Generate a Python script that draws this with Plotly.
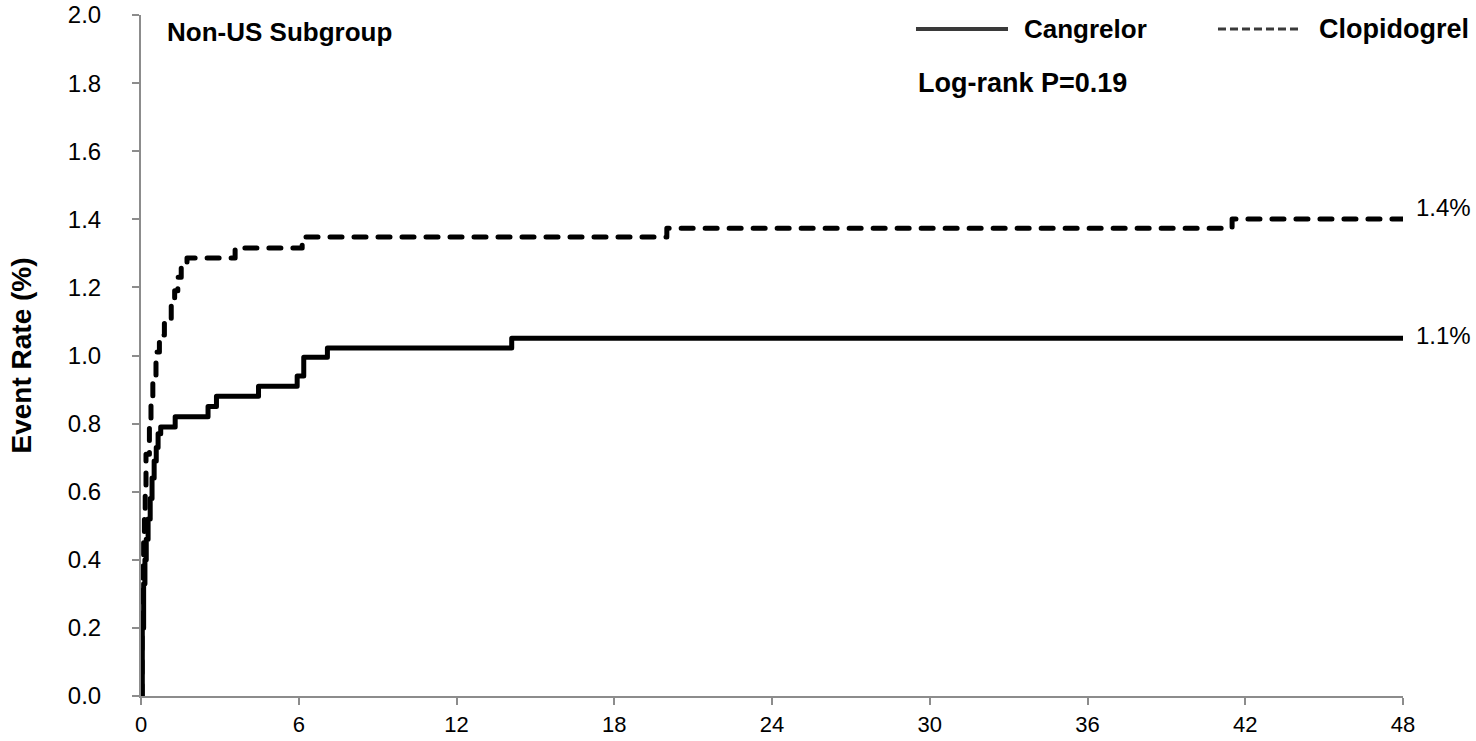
import plotly.graph_objects as go

# Kaplan-Meier cumulative event rates (%) by month, Non-US subgroup
cangrelor_months = [0, 0.05, 0.1, 0.15, 0.2, 0.27, 0.35, 0.42, 0.5, 0.58, 0.65,
                    0.75, 1.3, 2.55, 2.87, 4.47, 5.94, 6.19, 7.09, 14.1, 48]
cangrelor_rate = [0, 0.2, 0.33, 0.4, 0.46, 0.52, 0.58, 0.64, 0.69, 0.73, 0.77,
                  0.79, 0.82, 0.85, 0.88, 0.91, 0.94, 0.995, 1.022, 1.051, 1.051]

clopidogrel_months = [0, 0.04, 0.08, 0.1, 0.13, 0.16, 0.19, 0.32, 0.38, 0.45, 0.57,
                      0.70, 0.89, 1.15, 1.28, 1.40, 1.53, 1.75, 3.58, 6.13, 20.0, 41.5, 48]
clopidogrel_rate = [0, 0.25, 0.41, 0.48, 0.53, 0.60, 0.71, 0.81, 0.87, 0.92, 1.01,
                    1.06, 1.10, 1.15, 1.19, 1.23, 1.26, 1.286, 1.316, 1.348, 1.374, 1.401, 1.401]

x_ticks = [0, 6, 12, 18, 24, 30, 36, 42, 48]
y_ticks = [0.0, 0.2, 0.4, 0.6, 0.8, 1.0, 1.2, 1.4, 1.6, 1.8, 2.0]

subgroup_title = "Non-US Subgroup"
pvalue_text = "Log-rank P=0.19"
y_title = "Event Rate (%)"

FONT = "Liberation Sans, Arial, sans-serif"
AXIS_GREY = "#8c8c8c"

fig = go.Figure()
fig.add_trace(go.Scatter(
    x=cangrelor_months, y=cangrelor_rate, mode="lines", name="Cangrelor",
    line=dict(color="black", width=5, shape="hv"), cliponaxis=False,
))
fig.add_trace(go.Scatter(
    x=clopidogrel_months, y=clopidogrel_rate, mode="lines", name="Clopidogrel",
    line=dict(color="black", width=5, shape="hv", dash="12px,12px"), cliponaxis=False,
))

# final-rate labels at the right end of each curve
for rate, dy in ((cangrelor_rate, 3), (clopidogrel_rate, 11)):
    fig.add_annotation(x=48, y=rate[-1], xref="x", yref="y", text=f"{rate[-1]:.1f}%",
                       showarrow=False, xanchor="left", yanchor="middle", xshift=11, yshift=dy,
                       font=dict(family=FONT, size=24, color="black"))

bold = dict(family=FONT, size=26, color="black")
fig.add_annotation(x=0.019, y=0.975, xref="paper", yref="paper", text=f"<b>{subgroup_title}</b>",
                   showarrow=False, xanchor="left", yanchor="middle", font=bold)
fig.add_annotation(x=0.6141, y=0.900, xref="paper", yref="paper", text=f"<b>{pvalue_text}</b>",
                   showarrow=False, xanchor="left", yanchor="middle",
                   font=dict(family=FONT, size=27, color="black"))
fig.add_annotation(x=-0.0943, y=0.5, xref="paper", yref="paper", text=f"<b>{y_title}</b>",
                   showarrow=False, textangle=-90, xanchor="center", yanchor="middle",
                   font=dict(family=FONT, size=28, color="black"))

# legend: line samples drawn as shapes with bold labels
fig.add_shape(type="line", xref="paper", yref="paper", x0=0.6141, x1=0.687, y0=0.9794, y1=0.9794,
              line=dict(color="#3a3a3a", width=4))
fig.add_shape(type="line", xref="paper", yref="paper", x0=0.8534, x1=0.9168, y0=0.9794, y1=0.9794,
              line=dict(color="#3a3a3a", width=3, dash="8px,4px"))
fig.add_annotation(x=0.698, y=0.9794, xref="paper", yref="paper", text="<b>Cangrelor</b>",
                   showarrow=False, xanchor="left", yanchor="middle", font=bold)
fig.add_annotation(x=0.9319, y=0.9794, xref="paper", yref="paper", text="<b>Clopidogrel</b>",
                   showarrow=False, xanchor="left", yanchor="middle",
                   font=dict(family=FONT, size=27, color="black"))

fig.update_layout(
    width=1476, height=741,
    margin=dict(l=141, r=73, t=15, b=45, autoexpand=False),
    paper_bgcolor="white", plot_bgcolor="white",
    showlegend=False,
    font=dict(family=FONT, size=24, color="black"),
)
fig.update_xaxes(
    range=[0, 48], tickvals=x_ticks, ticktext=[str(v) for v in x_ticks],
    showgrid=False, zeroline=False, showline=True, linecolor=AXIS_GREY, linewidth=2,
    ticks="outside", ticklen=7, tickcolor=AXIS_GREY, tickwidth=2, automargin=False,
    ticklabelstandoff=1,
    tickfont=dict(family=FONT, size=22, color="black"),
)
fig.update_yaxes(
    range=[0, 2.0], tickvals=y_ticks, ticktext=[f"{v:.1f}" for v in y_ticks],
    showgrid=False, zeroline=False, showline=True, linecolor=AXIS_GREY, linewidth=2,
    ticks="outside", ticklen=7, tickcolor=AXIS_GREY, tickwidth=2, automargin=False,
    ticklabelstandoff=26,
    tickfont=dict(family=FONT, size=24, color="black"),
)

# rounded caps on the survival curves
round_caps = """
var gd = document.getElementsByClassName('plotly-graph-div')[0];
function roundCaps(){
  gd.querySelectorAll('.scatterlayer path.js-line').forEach(function(p){
    p.style.strokeLinecap = 'round'; p.style.strokeLinejoin = 'round';
  });
}
roundCaps();
gd.on('plotly_afterplot', roundCaps);
"""

fig.write_html("out.html", post_script=round_caps)
